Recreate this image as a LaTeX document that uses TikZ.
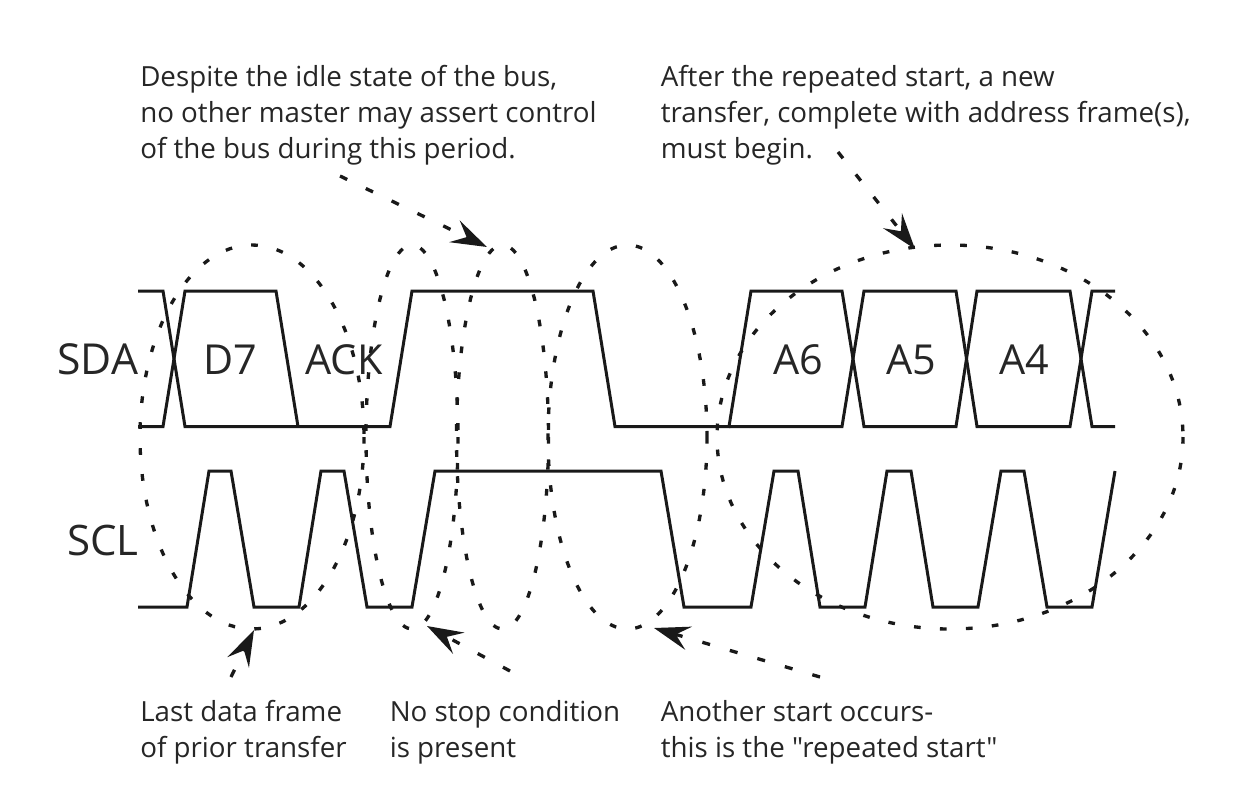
\documentclass[tikz,border=0pt]{standalone}
\usepackage{fontspec}
\setmainfont{Open Sans}[Ligatures=TeXOff]
\usetikzlibrary{arrows.meta}
\tikzset{
  wave/.style={line width=2.25pt,line join=miter,black!90},
  bubble/.style={line width=2.5pt,black!90,dash pattern=on 5pt off 14.5pt},
  pointer/.style={line width=2.5pt,black!90,dash pattern=on 6pt off 15.5pt,-{Stealth[length=27pt,width=18pt,inset=10pt,sep=0pt]}},
  note/.style={anchor=north west,inner sep=0pt,align=left,font=\fontsize{20.8}{27}\selectfont,text=black!85},
  sig/.style={anchor=base east,inner sep=0pt,font=\fontsize{31.5}{36}\selectfont,text=black!85},
  bit/.style={anchor=base,inner sep=0pt,font=\fontsize{31}{36}\selectfont,text=black!85},
}
\begin{document}
\begin{tikzpicture}[x=0.75pt,y=-0.75pt]
\useasboundingbox (0,0) rectangle (1236,794);
% waveforms
\draw[wave] (138,291)--(163,291)--(185,426.5)--(390,426.5)--(412,291)--(593,291)--(615,426.5)--(729,426.5)--(751,291)--(842,291)--(864,426.5)--(956,426.5)--(977,291)--(1070,291)--(1092,426.5)--(1115,426.5);
\draw[wave] (138,426.5)--(163,426.5)--(185,291)--(276,291)--(298,426.5);
\draw[wave] (729,426.5)--(842,426.5)--(864,291)--(956,291)--(977,426.5)--(1070,426.5)--(1092,291)--(1115,291);
\draw[wave] (138,607)--(187,607)--(209,471)--(231,471)--(254,607)--(299,607)--(321,471)--(344,471)--(367,607)--(412,607)--(435,471)--(661,471)--(684,607)--(751,607)--(774,471)--(798,471)--(820,607)--(865,607)--(887,471)--(911,471)--(933,607)--(978,607)--(1001,471)--(1024,471)--(1047,607)--(1092,607)--(1115,471);
% bubbles: each starts at its rightmost point and runs clockwise on the page
\draw[bubble] (364,437) arc [start angle=0,end angle=360,x radius=112,y radius=192];
\draw[bubble] (458,437) arc [start angle=0,end angle=360,x radius=46,y radius=192];
\draw[bubble] (548.5,437) arc [start angle=0,end angle=360,x radius=46,y radius=192];
\draw[bubble] (707,437) arc [start angle=0,end angle=360,x radius=79.5,y radius=192];
\draw[bubble] (1183,437) arc [start angle=0,end angle=360,x radius=233,y radius=192];
% labels
\node[sig,font=\fontsize{32}{36}\selectfont] (sda) at (138.5,374) {SDA};
\node[sig] (scl) at (139,555) {SCL};
\node[bit] (d7) at (230,374) {D7};
\node[bit] (ack) at (344,374) {ACK};
\node[bit] (a6) at (798,374) {A6};
\node[bit] (a5) at (911,374) {A5};
\node[bit] (a4) at (1024,374) {A4};
\node[note] (idle) at (140,65) {Despite the idle state of the bus,\\no other master may assert control\\of the bus during this period.};
\node[note] (after) at (660.5,65) {After the repeated start, a new\\transfer, complete with address frame(s),\\must begin.};
\node[note] (last) at (140,700) {Last data frame\\of prior transfer};
\node[note] (nostop) at (389.5,700) {No stop condition\\is present};
\node[note] (another) at (660.5,700) {Another start occurs-\\this is the "repeated start"};
% pointers
\coordinate (p1s) at (340,176); \coordinate (p1e) at (487,247);
\coordinate (p2s) at (838,152); \coordinate (p2e) at (915,249);
\coordinate (p3s) at (231,677); \coordinate (p3e) at (254,630);
\coordinate (p4s) at (510,671); \coordinate (p4e) at (427,626);
\coordinate (p5s) at (820,677); \coordinate (p5e) at (654,628);
\draw[pointer] (p1s)--(p1e);
\draw[pointer] (p2s)--(p2e);
\draw[pointer] (p3s)--(p3e);
\draw[pointer] (p4s)--(p4e);
\draw[pointer] (p5s)--(p5e);
\end{tikzpicture}
\end{document}
